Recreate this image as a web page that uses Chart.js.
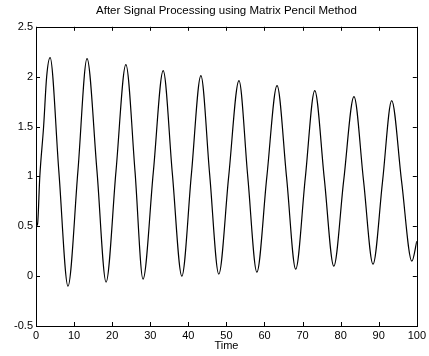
<!DOCTYPE html>
<html>
<head>
<meta charset="utf-8">
<script src="https://cdn.jsdelivr.net/npm/chart.js@4/dist/chart.umd.min.js"></script>
<style>
html,body{margin:0;padding:0;background:#fff;}
#wrap{width:429px;height:356px;}
</style>
</head>
<body>
<div id="wrap"><canvas id="c" width="429" height="356"></canvas></div>
<script>
const titleText = "After Signal Processing using Matrix Pencil Method";
const xLabel = "Time";
const xTicks = [0, 10, 20, 30, 40, 50, 60, 70, 80, 90, 100];
const yTicks = [-0.5, 0, 0.5, 1, 1.5, 2, 2.5];
const timeValues = [0, 0.4, 1.0, 2.0, 2.8, 3.7, 6.0, 8.4, 11.0, 13.4, 16.0, 18.4, 21.0, 23.6, 26.0, 28.1, 30.8, 33.4, 35.8, 38.3, 40.8, 43.3, 45.6, 48.0, 50.6, 53.3, 55.6, 58.0, 60.6, 63.3, 65.8, 68.2, 70.7, 73.2, 75.7, 78.2, 80.8, 83.5, 86.0, 88.5, 91.0, 93.4, 96.0, 98.7, 100];
const signalValues = [0.5, 0.52, 1.0, 1.5, 2.0, 2.19, 1.05, -0.10, 1.05, 2.18, 1.06, -0.06, 1.05, 2.12, 1.05, -0.03, 1.04, 2.06, 1.03, 0.00, 1.02, 2.01, 1.02, 0.02, 1.0, 1.96, 1.0, 0.04, 0.99, 1.91, 0.99, 0.07, 0.98, 1.86, 0.98, 0.10, 0.96, 1.80, 0.96, 0.12, 0.95, 1.76, 0.95, 0.15, 0.35];

const points = timeValues.map((t, i) => ({x: t, y: signalValues[i]}));

const frameTicks = {
  id: 'frameTicks',
  afterDatasetsDraw(chart) {
    const {ctx, chartArea: a, scales: {x, y}} = chart;
    ctx.save();
    ctx.strokeStyle = '#000';
    ctx.lineWidth = 1;
    ctx.strokeRect(Math.round(a.left) + 0.5, Math.round(a.top) + 0.5, Math.round(a.right - a.left), Math.round(a.bottom - a.top));
    const L = 4;
    ctx.beginPath();
    xTicks.forEach(v => {
      const px = Math.round(x.getPixelForValue(v)) + 0.5;
      ctx.moveTo(px, a.bottom); ctx.lineTo(px, a.bottom - L);
      ctx.moveTo(px, a.top); ctx.lineTo(px, a.top + L);
    });
    yTicks.forEach(v => {
      const py = Math.round(y.getPixelForValue(v)) + 0.5;
      ctx.moveTo(a.left, py); ctx.lineTo(a.left + L, py);
      ctx.moveTo(a.right, py); ctx.lineTo(a.right - L, py);
    });
    ctx.stroke();
    ctx.restore();
  }
};

const font = "'Liberation Sans', Arial, Helvetica, sans-serif";

new Chart(document.getElementById('c'), {
  type: 'line',
  data: {
    datasets: [{
      data: points,
      borderColor: '#000',
      borderWidth: 1.2,
      pointRadius: 0,
      fill: false,
      cubicInterpolationMode: 'monotone'
    }]
  },
  options: {
    responsive: false,
    animation: false,
    devicePixelRatio: 1,
    layout: {padding: {left: 0, right: 11, top: 0, bottom: 0}},
    plugins: {
      legend: {display: false},
      tooltip: {enabled: false},
      title: {
        display: true,
        fullSize: false,
        text: titleText,
        color: '#000',
        font: {family: font, size: 11.5, weight: 'normal', lineHeight: 1.2},
        padding: {top: 4, bottom: 9}
      }
    },
    scales: {
      x: {
        type: 'linear',
        min: 0, max: 100,
        afterBuildTicks: s => { s.ticks = xTicks.map(v => ({value: v})); },
        afterFit: s => { s.height = 30; },
        grid: {display: false, drawTicks: false},
        border: {display: false},
        ticks: {color: '#000', font: {family: font, size: 11}, padding: 3, maxRotation: 0, autoSkip: false},
        title: {display: true, text: xLabel, color: '#000', font: {family: font, size: 11}, padding: {top: 0, bottom: 3}}
      },
      y: {
        type: 'linear',
        min: -0.5, max: 2.5,
        afterBuildTicks: s => { s.ticks = yTicks.map(v => ({value: v})); },
        afterFit: s => { s.width = 36; },
        grid: {display: false, drawTicks: false},
        border: {display: false},
        ticks: {color: '#000', font: {family: font, size: 11}, padding: 3, autoSkip: false,
          callback: v => String(v)}
      }
    }
  },
  plugins: [frameTicks]
});
</script>
</body>
</html>
